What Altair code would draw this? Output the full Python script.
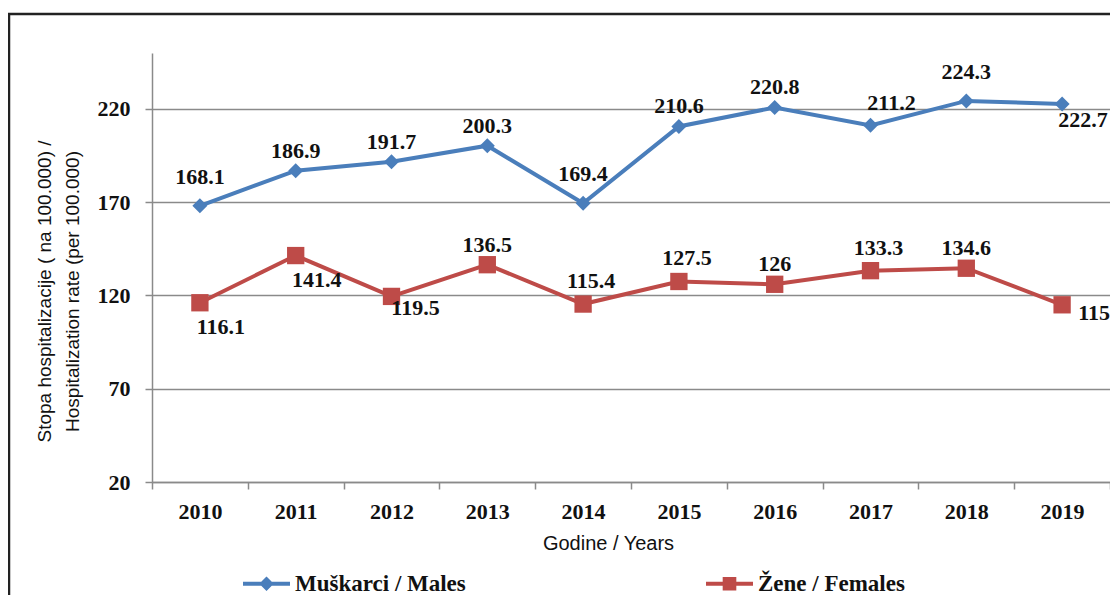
import altair as alt
import pandas as pd

years = ["2010", "2011", "2012", "2013", "2014", "2015", "2016", "2017", "2018", "2019"]
males = [168.1, 186.9, 191.7, 200.3, 169.4, 210.6, 220.8, 211.2, 224.3, 222.7]
females = [116.1, 141.4, 119.5, 136.5, 115.4, 127.5, 126, 133.3, 134.6, 115]
series_names = ["Muškarci / Males", "Žene / Females"]
male_label_pos = ["high", "above", "above", "above", "high", "above", "above", "above_right", "high", "below_right"]
female_label_pos = ["low_right", "low_right", "right_low", "above", "above_right_small", "above_right_small",
                    "above", "above_right_small", "above", "right"]
y_ticks = [20, 70, 120, 170, 220]

BLUE = "#4A7EBB"
RED = "#BE4B48"
SERIF = "Liberation Serif"
SANS = "Liberation Sans"

offsets = {
    "above": (0, -20),
    "high": (0, -29),
    "above_right": (21, -22),
    "below_right": (21, 16),
    "low_right": (21, 24),
    "right_low": (24, 12),
    "above_right_small": (8, -23),
    "right": (32, 8),
}

rows = []
for i, yr in enumerate(years):
    rows.append({"year": yr, "value": males[i], "series": series_names[0], "pos": male_label_pos[i]})
    rows.append({"year": yr, "value": females[i], "series": series_names[1], "pos": female_label_pos[i]})
df = pd.DataFrame(rows)

x_enc = alt.X(
    "year:O",
    scale=alt.Scale(type="band", paddingInner=0, paddingOuter=0),
    axis=alt.Axis(
        tickBand="extent", grid=False, domainColor="#8a8a8a", domainWidth=1.5,
        tickColor="#8a8a8a", tickWidth=1.5, tickSize=7,
        labelFont=SERIF, labelFontSize=22, labelFontWeight="bold", labelColor="#111",
        labelAngle=0, labelPadding=12,
        title="Godine / Years", titleFont=SANS, titleFontSize=20, titleFontWeight="normal",
        titleColor="#111", titleX=456, titleY=61, titleBaseline="middle",
    ),
)
y_enc = alt.Y(
    "value:Q",
    scale=alt.Scale(domain=[20, 250], nice=False, zero=False),
    axis=alt.Axis(
        values=y_ticks, grid=True, gridColor="#8a8a8a", gridWidth=1.5,
        domainColor="#8a8a8a", domainWidth=1.5, tickColor="#8a8a8a", tickWidth=1.5, tickSize=7,
        labelFont=SERIF, labelFontSize=22, labelFontWeight="bold", labelColor="#111", labelPadding=15,
        title=["Stopa hospitalizacije ( na 100.000) /", "Hospitalization rate (per 100.000)"],
        titleFont=SANS, titleFontSize=19, titleFontWeight="normal", titleColor="#111",
        titleLineHeight=28, titleX=-98, titleY=238, titleAngle=270, titleBaseline="bottom",
    ),
)

base = alt.Chart(df)

layers = []
for name, color, shape, size in [(series_names[0], BLUE, "diamond", 225), (series_names[1], RED, "square", 300)]:
    sub = base.transform_filter(alt.datum.series == name)
    layers.append(sub.mark_line(color=color, strokeWidth=4).encode(x=x_enc, y=y_enc))
    layers.append(sub.mark_point(shape=shape, filled=True, size=size, color=color, opacity=1).encode(x=x_enc, y=y_enc))

for pos, (dx, dy) in offsets.items():
    layers.append(
        base.transform_filter(alt.datum.pos == pos)
        .mark_text(dx=dx, dy=dy, font=SERIF, fontSize=22, fontWeight="bold", color="#111", baseline="middle")
        .encode(x=x_enc, y=y_enc, text=alt.Text("value:Q"))
    )

path_m = "M-1,-0.085H1V0.085H-1Z M0,-0.31L0.31,0L0,0.31L-0.31,0Z"
path_f = "M-1,-0.085H1V0.085H-1Z M-0.29,-0.29H0.29V0.29H-0.29Z"
leg = alt.Legend(
    orient="none", legendX=91, legendY=507, direction="horizontal", title=None,
    labelFont=SERIF, labelFontSize=23, labelFontWeight="bold", labelColor="#111",
    labelOffset=5, labelLimit=400, columnPadding=240, padding=0,
    symbolSize=2209, symbolStrokeWidth=0, symbolOpacity=1,
)
legend_layer = base.transform_filter("false").mark_point(filled=True, opacity=1).encode(
    x=x_enc, y=y_enc,
    color=alt.Color("series:N", scale=alt.Scale(domain=series_names, range=[BLUE, RED]), legend=leg),
    shape=alt.Shape("series:N", scale=alt.Scale(domain=series_names, range=[path_m, path_f]), legend=leg),
)
layers.append(legend_layer)

frame = alt.Chart(pd.DataFrame({"k": [0]})).mark_rect(filled=False, stroke="#222", strokeWidth=2.5).encode(
    x=alt.value(-143), x2=alt.value(1000), y=alt.value(-39), y2=alt.value(600)
)

chart = alt.layer(frame, *layers).properties(
    width=958, height=429,
    autosize=alt.AutoSizeParams(type="none"),
    padding={"left": 144, "top": 45, "right": 0, "bottom": 113},
).configure_view(stroke=None)

chart.save("out.html", embed_options={"renderer": "svg", "actions": False})
